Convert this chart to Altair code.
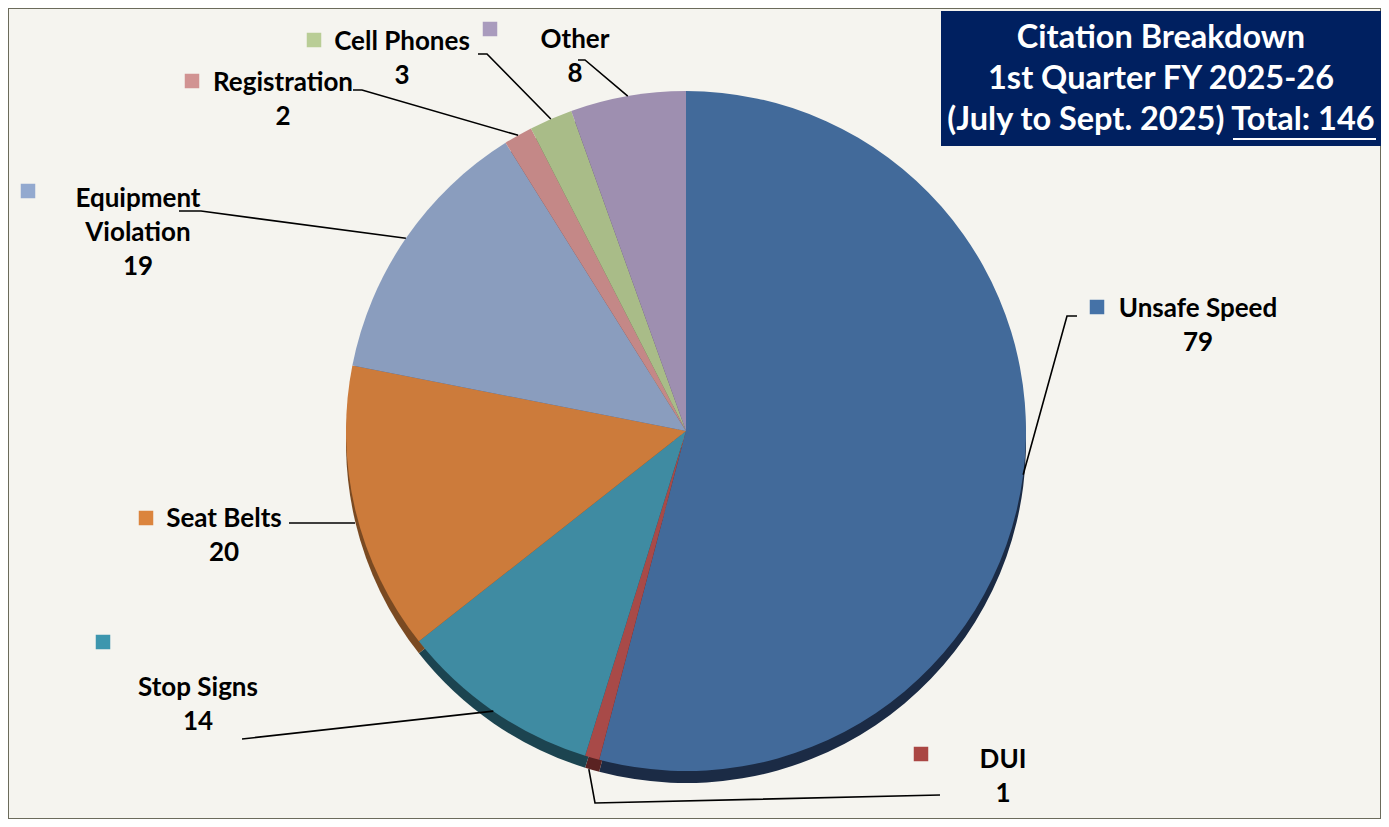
import altair as alt
import pandas as pd
import numpy as np

# ---------------- data ----------------
categories = ["Unsafe Speed", "DUI", "Stop Signs", "Seat Belts",
              "Equipment Violation", "Registration", "Cell Phones", "Other"]
counts = [79, 1, 14, 20, 19, 2, 3, 8]
name_lines = [["Unsafe Speed"], ["DUI"], ["Stop Signs"], ["Seat Belts"],
              ["Equipment", "Violation"], ["Registration"], ["Cell Phones"], ["Other"]]
title_lines = ["Citation Breakdown", "1st Quarter FY 2025-26", "(July to Sept. 2025) Total: 146"]

# ---------------- styles ----------------
slice_colors = ["#426A9A", "#A84A48", "#3F8BA2", "#CC7B3B",
                "#8A9DBE", "#C48887", "#A9BC88", "#9E8FB0"]
shadow_colors = ["#1B2B45", "#5A2222", "#1C4450", "#7A4A22",
                 "#4A5670", "#6A4444", "#5A6644", "#564B62"]
marker_colors = ["#4572A7", "#AA4643", "#3D96AE", "#DB843D",
                 "#93A9CF", "#D19392", "#B9CD96", "#A99BBD"]

# ---------------- layout (page pixel coords) ----------------
W, H = 1373, 811
OFF = 8
CX, CY, R = 686, 431, 340
SHADOW_DY = 12
FONT = "Lato"
LABEL_SIZE = 26
TITLE_SIZE = 32.5
LINE_GAP = 34

# label centre of first text line, marker position, leader vertices (label side), radius factor for pie end
label_layout = {
    "Unsafe Speed": dict(tx=1198, ty=309, mx=1097, my=307, lead=[(1077, 316), (1067, 316)], rf=1.0),
    "DUI": dict(tx=1003, ty=760, mx=921, my=754, lead=[(940, 795), (595, 803)], rf=1.035),
    "Stop Signs": dict(tx=198, ty=688, mx=103, my=642, lead=[(242, 739)], rf=1.0),
    "Seat Belts": dict(tx=224, ty=519, mx=146, my=518, lead=[(289, 523)], end=(355, 523)),
    "Equipment Violation": dict(tx=138, ty=199, mx=28, my=191, lead=[(179, 211), (201, 211)], rf=1.0),
    "Registration": dict(tx=283, ty=83, mx=192, my=81, lead=[(353, 90), (362, 90)], rf=1.0),
    "Cell Phones": dict(tx=402, ty=42, mx=314, my=40, lead=[(478, 54), (487, 54)], rf=1.0),
    "Other": dict(tx=575, ty=40, mx=490, my=29, lead=[(578, 60), (585, 60)], rf=1.0),
}

total = sum(counts)
cum = np.cumsum(counts)
mid_angles = (cum - np.array(counts) / 2) / total * 2 * np.pi

pie_df = pd.DataFrame({
    "category": categories, "count": counts, "order": range(len(categories)),
    "fill": slice_colors, "shadow": shadow_colors,
})

lead_rows, text_rows, marker_rows = [], [], []
for i, cat in enumerate(categories):
    L = label_layout[cat]
    pts = list(L["lead"])
    if "end" in L:
        pts.append(L["end"])
    else:
        a = mid_angles[i]
        rr = R * L["rf"]
        pts.append((CX + rr * np.sin(a), CY - rr * np.cos(a)))
    for k, (px, py) in enumerate(pts):
        lead_rows.append({"category": cat, "k": k, "x": px, "y": py})
    lines = name_lines[i] + [str(counts[i])]
    for j, t in enumerate(lines):
        text_rows.append({"category": cat, "text": t, "x": L["tx"], "y": L["ty"] + j * LINE_GAP})
    marker_rows.append({"category": cat, "x": L["mx"], "y": L["my"], "fill": marker_colors[i]})

lead_df = pd.DataFrame(lead_rows)
text_df = pd.DataFrame(text_rows)
marker_df = pd.DataFrame(marker_rows)

xs = alt.Scale(domain=[OFF, OFF + W], range=[0, W])
ys = alt.Scale(domain=[OFF, OFF + H], range=[0, H])
noax = None

shadow = alt.Chart(pie_df).mark_arc(radius=R).encode(
    theta=alt.Theta("count:Q", stack=True),
    order=alt.Order("order:Q"),
    color=alt.Color("shadow:N", scale=None),
    x=alt.value(CX - OFF), y=alt.value(CY - OFF + SHADOW_DY),
)
pie = alt.Chart(pie_df).mark_arc(radius=R).encode(
    theta=alt.Theta("count:Q", stack=True),
    order=alt.Order("order:Q"),
    color=alt.Color("fill:N", scale=None),
    x=alt.value(CX - OFF), y=alt.value(CY - OFF),
)

leaders = alt.Chart(lead_df).mark_line(color="#000000", strokeWidth=1.6).encode(
    x=alt.X("x:Q", scale=xs, axis=noax),
    y=alt.Y("y:Q", scale=ys, axis=noax),
    detail="category:N",
    order="k:Q",
)

markers = alt.Chart(marker_df).mark_square(size=210, opacity=1).encode(
    x=alt.X("x:Q", scale=xs, axis=noax),
    y=alt.Y("y:Q", scale=ys, axis=noax),
    color=alt.Color("fill:N", scale=None),
)

labels = alt.Chart(text_df).mark_text(
    font=FONT, fontSize=LABEL_SIZE, fontWeight="bold", color="#000000",
    align="center", baseline="middle",
).encode(
    x=alt.X("x:Q", scale=xs, axis=noax),
    y=alt.Y("y:Q", scale=ys, axis=noax),
    text="text:N",
)

# title box
box_df = pd.DataFrame({"x": [941], "x2": [1382], "y": [11], "y2": [146]})
box = alt.Chart(box_df).mark_rect(color="#002060").encode(
    x=alt.X("x:Q", scale=xs, axis=noax), x2="x2:Q",
    y=alt.Y("y:Q", scale=ys, axis=noax), y2="y2:Q",
)
title_df = pd.DataFrame({"text": title_lines, "x": [1161] * 3, "y": [38, 79, 120]})
title_text = alt.Chart(title_df).mark_text(
    font=FONT, fontSize=TITLE_SIZE, fontWeight="bold", color="#FFFFFF",
    align="center", baseline="middle",
).encode(
    x=alt.X("x:Q", scale=xs, axis=noax),
    y=alt.Y("y:Q", scale=ys, axis=noax),
    text="text:N",
)
ul_df = pd.DataFrame({"x": [1233], "x2": [1376], "y": [139]})
underline = alt.Chart(ul_df).mark_rule(color="#FFFFFF", strokeWidth=2).encode(
    x=alt.X("x:Q", scale=xs, axis=noax), x2="x2:Q",
    y=alt.Y("y:Q", scale=ys, axis=noax),
)

chart = alt.layer(shadow, pie, leaders, markers, labels, box, title_text, underline).properties(
    width=W, height=H, padding=0, autosize=alt.AutoSizeParams(type="none"),
    background="#F5F4EF",
).configure_view(stroke="#6B6B5B", strokeWidth=2)

chart.save("out.html", embed_options={"renderer": "svg", "actions": False})
